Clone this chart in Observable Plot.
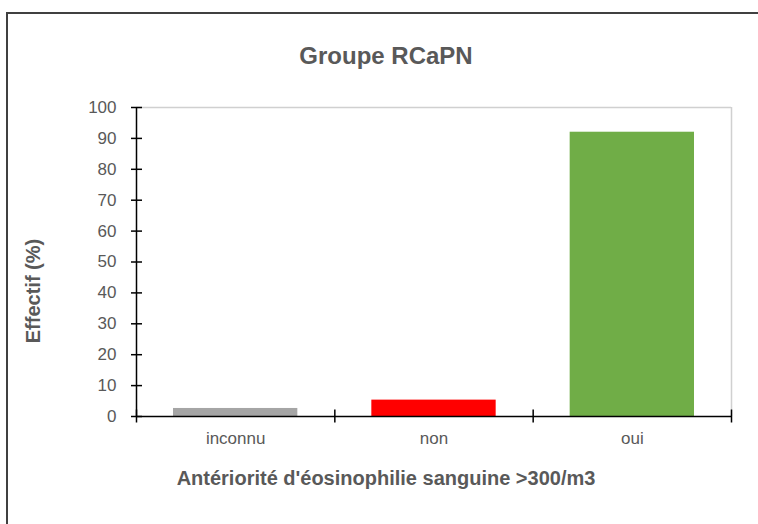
<!DOCTYPE html>
<html>
<head>
<meta charset="utf-8">
<script src="https://cdn.jsdelivr.net/npm/d3@7"></script>
<script src="https://cdn.jsdelivr.net/npm/@observablehq/plot@0.6"></script>
<style>
  html, body { margin: 0; padding: 0; background: #fff; overflow: hidden; }
  #wrap { position: relative; width: 758px; height: 524px; font-family: "Liberation Sans", Arial, sans-serif; }
  #border { position: absolute; left: 6px; top: 12px; width: 900px; height: 700px;
            border-left: 2px solid #404040; border-top: 2px solid #404040; pointer-events: none; }
  #chart { position: absolute; left: 0; top: 0; }
</style>
</head>
<body>
<div id="wrap"><div id="chart"></div><div id="border"></div></div>
<script>
const title = "Groupe RCaPN";
const xTitle = "Antériorité d'éosinophilie sanguine >300/m3";
const yTitle = "Effectif (%)";
const categories = ["inconnu", "non", "oui"];
const values = [2.6, 5.3, 92];
const colors = ["#A5A5A5", "#FF0000", "#70AD47"];
const yTicks = [0, 10, 20, 30, 40, 50, 60, 70, 80, 90, 100];

const data = categories.map((c, i) => ({cat: c, idx: i, value: values[i], color: colors[i]}));
const boundaries = d3.range(categories.length + 1);
const centers = categories.map((c, i) => i + 0.5);
const textColor = "#595959";
const font = "Liberation Sans, Arial, sans-serif";

const chart = Plot.plot({
  width: 758,
  height: 524,
  marginLeft: 136,
  marginRight: 27,
  marginTop: 107,
  marginBottom: 108,
  style: {fontFamily: font, background: "transparent", overflow: "visible"},
  x: {domain: [0, categories.length], axis: null},
  y: {domain: [0, 100], axis: null},
  marks: [
    Plot.ruleY([100], {stroke: "#d0d0d0", strokeWidth: 1.5}),
    Plot.ruleX([categories.length], {stroke: "#d0d0d0", strokeWidth: 1.5}),
    Plot.rectY(data, {x1: "idx", x2: d => d.idx + 1, y: "value", fill: "color", insetLeft: 37, insetRight: 37}),
    // y axis labels
    Plot.axisY(yTicks, {anchor: "left", label: null, tickSize: 0, tickPadding: 20, fontSize: 17, fill: textColor}),
    // y axis crossing ticks
    Plot.axisY(yTicks, {anchor: "left", label: null, tickSize: 11, dx: 6, tickFormat: () => "", stroke: "#000", strokeWidth: 1.5}),
    // x axis crossing ticks at band boundaries
    Plot.axisX(boundaries, {anchor: "bottom", label: null, tickSize: 13, dy: -6.5, tickFormat: () => "", stroke: "#000", strokeWidth: 1.5}),
    // x category labels
    Plot.axisX(centers, {anchor: "bottom", label: null, tickSize: 0, tickPadding: 15, fontSize: 17, fill: textColor,
      tickFormat: d => categories[Math.floor(d)]}),
    Plot.ruleY([0], {stroke: "#000", strokeWidth: 1.5}),
    Plot.ruleX([0], {stroke: "#000", strokeWidth: 1.5}),
    Plot.text([title], {frameAnchor: "top", textAnchor: "middle", lineAnchor: "middle", dx: -48, dy: -51,
      fontSize: 24, fontWeight: "bold", fill: textColor, fontFamily: font}),
    Plot.text([xTitle], {frameAnchor: "bottom", textAnchor: "middle", lineAnchor: "middle", dx: -48, dy: 62,
      fontSize: 20, fontWeight: "bold", fill: textColor, fontFamily: font}),
    Plot.text([yTitle], {frameAnchor: "left", textAnchor: "middle", lineAnchor: "middle", dx: -103, dy: 29, rotate: -90,
      fontSize: 20, fontWeight: "bold", fill: textColor, fontFamily: font})
  ]
});
document.getElementById("chart").appendChild(chart);
</script>
</body>
</html>
